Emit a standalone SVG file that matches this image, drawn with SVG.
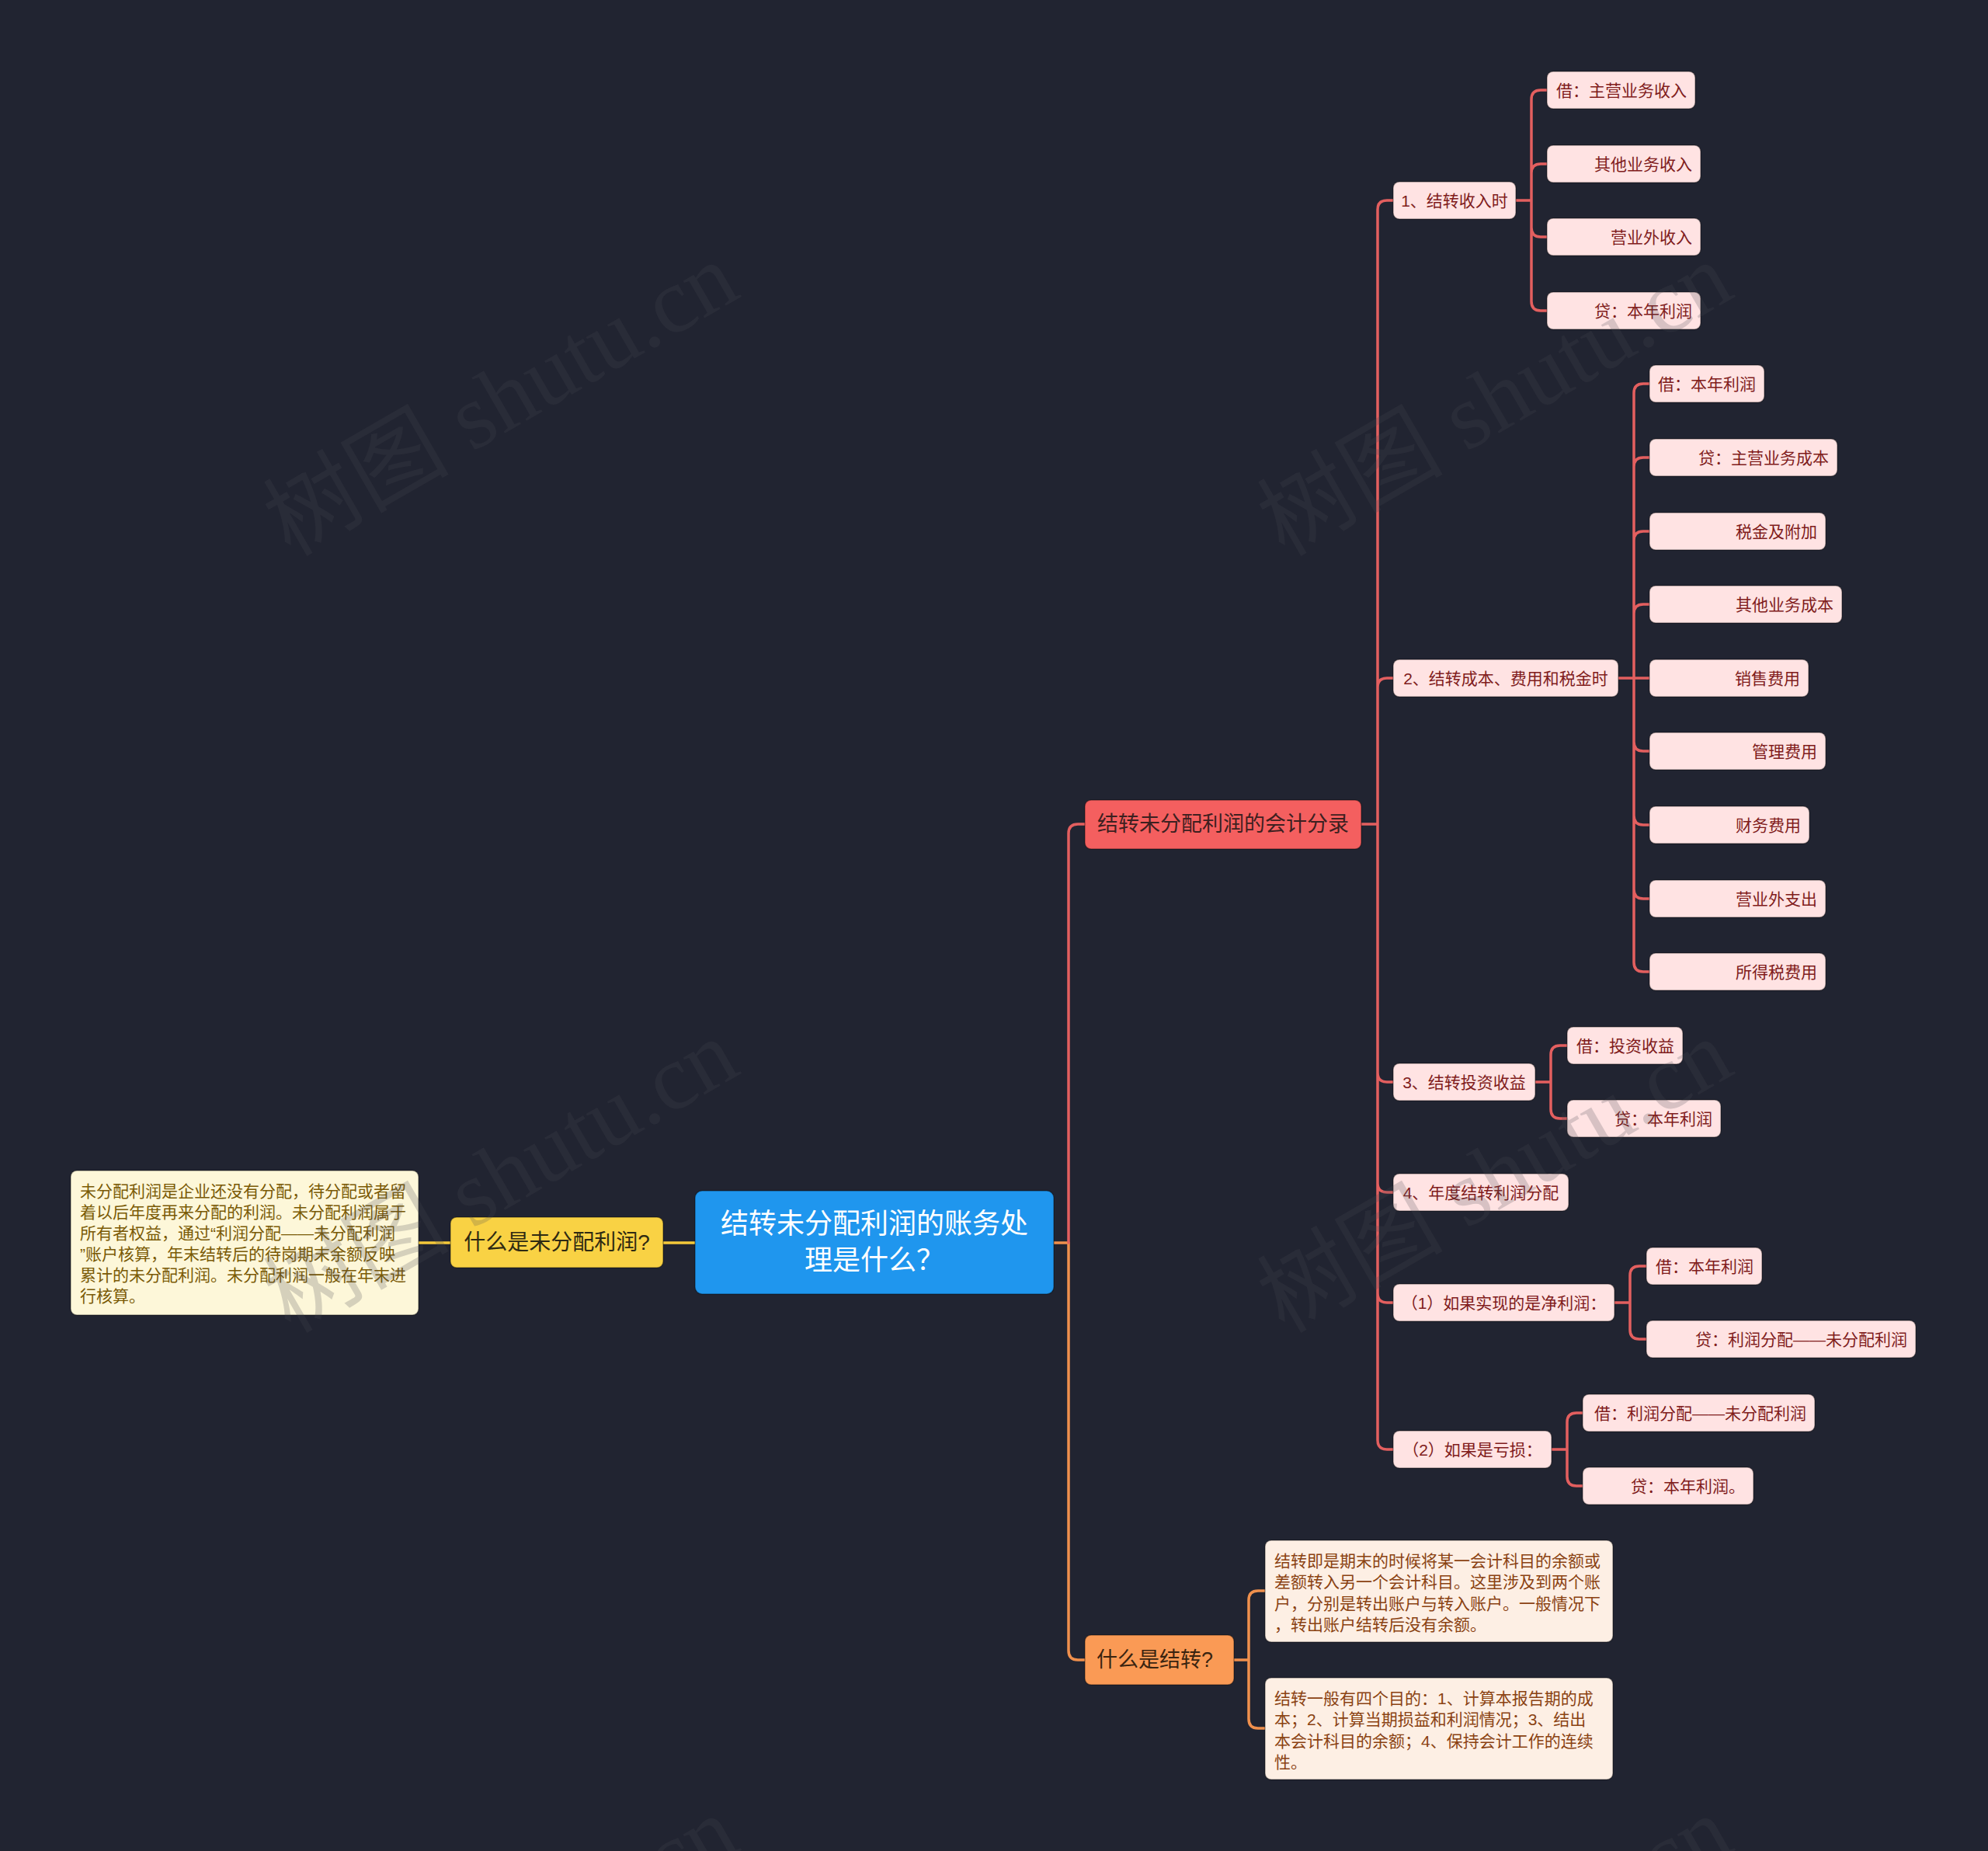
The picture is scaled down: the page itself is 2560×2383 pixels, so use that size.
<svg xmlns="http://www.w3.org/2000/svg" width="2560" height="2383" viewBox="0 0 2560 2383">
<style>
text{font-family:"Liberation Sans","Noto Sans CJK SC",sans-serif;dominant-baseline:central}
.c{fill:none;stroke-width:3.5;stroke-linecap:round;stroke-linejoin:round}
.cr{stroke:#e35f5f}
.co{stroke:#f0904d}
.cy{stroke:#f5c93a}
.bx{stroke:#000;stroke-opacity:.35;stroke-width:1.5}
.leaf rect{fill:#ffe3e3}
.leaf text{fill:#801c1c;font-size:21px;text-anchor:end}
.l2 rect{fill:#ffe3e3}
.l2 text{fill:#801c1c;font-size:21px;text-anchor:middle}
.wm{font-family:"Liberation Serif","Noto Sans CJK SC",serif;font-size:120px;fill:#484a52;fill-opacity:.22;text-anchor:middle}
</style>
<rect width="2560" height="2383" fill="#212431"/>

<g id="connectors">
<path class="c cy" d="M895 1600H854M580 1600H539"/>
<path class="c co" d="M1357 1600H1376V2125Q1376 2137 1388 2137H1397"/>
<path class="c cr" d="M1376 1600V1073Q1376 1061 1388 1061H1397"/>
<path class="c co" d="M1589 2137H1608V2060Q1608 2048 1620 2048H1629M1608 2137V2213Q1608 2225 1620 2225H1629"/>
<path class="c cr" d="M1753 1061H1774V270Q1774 258 1786 258H1794M1774 1061V885Q1774 873 1786 873H1794M1774 1061V1381Q1774 1393 1786 1393H1794M1774 1381V1523Q1774 1535 1786 1535H1794M1774 1523V1665Q1774 1677 1786 1677H1794M1774 1665V1854Q1774 1866 1786 1866H1794"/>
<path class="c cr" d="M1952 258H1972V128Q1972 116 1984 116H1992M1972 258V223Q1972 211 1984 211H1992M1972 258V293Q1972 305 1984 305H1992M1972 293V388Q1972 400 1984 400H1992"/>
<path class="c cr" d="M2084 873H2124M2104 873V506Q2104 494 2116 494H2124M2104 601Q2104 589 2116 589H2124M2104 696Q2104 684 2116 684H2124M2104 790Q2104 778 2116 778H2124M2104 873V1239Q2104 1251 2116 1251H2124M2104 955Q2104 967 2116 967H2124M2104 1050Q2104 1062 2116 1062H2124M2104 1145Q2104 1157 2116 1157H2124"/>
<path class="c cr" d="M1977 1393H1997V1358Q1997 1346 2009 1346H2018M1997 1393V1428Q1997 1440 2009 1440H2018"/>
<path class="c cr" d="M2079 1677H2099V1642Q2099 1630 2111 1630H2120M2099 1677V1712Q2099 1724 2111 1724H2120"/>
<path class="c cr" d="M1998 1866H2018V1831Q2018 1819 2030 1819H2038M2018 1866V1901Q2018 1913 2030 1913H2038"/>
</g>

<g id="root">
<rect class="bx" x="895" y="1533" width="462" height="133" rx="9" fill="#1f96ee"/>
<text x="1126" y="1575" font-size="36" fill="#fff" text-anchor="middle">结转未分配利润的账务处</text>
<text x="1126" y="1622" font-size="36" fill="#fff" text-anchor="middle">理是什么？</text>
</g>

<g id="n-what-undistributed">
<rect class="bx" x="580" y="1567" width="274" height="65" rx="8" fill="#f9d244"/>
<text x="717" y="1599" font-size="28" fill="#2f2a12" text-anchor="middle">什么是未分配利润?</text>
</g>
<g id="n-note-undistributed">
<rect class="bx" x="91" y="1507" width="448" height="186" rx="8" fill="#fdf7d9"/>
<g font-size="21" fill="#7a5a06">
<text x="103" y="1533">未分配利润是企业还没有分配，待分配或者留</text>
<text x="103" y="1560">着以后年度再来分配的利润。未分配利润属于</text>
<text x="103" y="1587">所有者权益，通过“利润分配——未分配利润</text>
<text x="103" y="1614">”账户核算，年末结转后的待岗期末余额反映</text>
<text x="103" y="1641">累计的未分配利润。未分配利润一般在年末进</text>
<text x="103" y="1668">行核算。</text>
</g>
</g>

<g id="n-entries">
<rect class="bx" x="1397" y="1030" width="356" height="63" rx="8" fill="#f45f5f"/>
<text x="1575" y="1061" font-size="27" fill="#3d2020" text-anchor="middle">结转未分配利润的会计分录</text>
</g>

<g id="n-what-transfer">
<rect class="bx" x="1397" y="2105" width="192" height="64" rx="8" fill="#fa9a55"/>
<text x="1412" y="2137" font-size="27" fill="#3a2410">什么是结转?</text>
</g>
<g id="n-transfer-note1">
<rect class="bx" x="1629" y="1983" width="448" height="131" rx="8" fill="#fdefe4"/>
<g font-size="21" fill="#8a4212">
<text x="1641" y="2009">结转即是期末的时候将某一会计科目的余额或</text>
<text x="1641" y="2036.5">差额转入另一个会计科目。这里涉及到两个账</text>
<text x="1641" y="2064">户，分别是转出账户与转入账户。一般情况下</text>
<text x="1641" y="2091.5">，转出账户结转后没有余额。</text>
</g>
</g>
<g id="n-transfer-note2">
<rect class="bx" x="1629" y="2160" width="448" height="131" rx="8" fill="#fdefe4"/>
<g font-size="21" fill="#8a4212">
<text x="1641" y="2186">结转一般有四个目的：1、计算本报告期的成</text>
<text x="1641" y="2213.5">本；2、计算当期损益和利润情况；3、结出</text>
<text x="1641" y="2241">本会计科目的余额；4、保持会计工作的连续</text>
<text x="1641" y="2268.5">性。</text>
</g>
</g>

<g id="l2-1" class="l2"><rect class="bx" x="1794" y="234" width="158" height="48" rx="8"/><text x="1873" y="258">1、结转收入时</text></g>
<g id="l2-2" class="l2"><rect class="bx" x="1794" y="849" width="290" height="48" rx="8"/><text x="1939" y="873">2、结转成本、费用和税金时</text></g>
<g id="l2-3" class="l2"><rect class="bx" x="1794" y="1369" width="183" height="48" rx="8"/><text x="1885.5" y="1393">3、结转投资收益</text></g>
<g id="l2-4" class="l2"><rect class="bx" x="1794" y="1511" width="226" height="48" rx="8"/><text x="1907" y="1535">4、年度结转利润分配</text></g>
<g id="l2-5" class="l2"><rect class="bx" x="1794" y="1653" width="285" height="48" rx="8"/><text x="1936.5" y="1677">（1）如果实现的是净利润：</text></g>
<g id="l2-6" class="l2"><rect class="bx" x="1794" y="1842" width="204" height="48" rx="8"/><text x="1896" y="1866">（2）如果是亏损：</text></g>

<g id="g1-1" class="leaf"><rect class="bx" x="1992" y="92" width="191" height="48" rx="8"/><text x="2172" y="116">借：主营业务收入</text></g>
<g id="g1-2" class="leaf"><rect class="bx" x="1992" y="187" width="198" height="48" rx="8"/><text x="2179" y="211">其他业务收入</text></g>
<g id="g1-3" class="leaf"><rect class="bx" x="1992" y="281" width="198" height="48" rx="8"/><text x="2179" y="305">营业外收入</text></g>
<g id="g1-4" class="leaf"><rect class="bx" x="1992" y="376" width="198" height="48" rx="8"/><text x="2179" y="400">贷：本年利润</text></g>

<g id="g2-1" class="leaf"><rect class="bx" x="2124" y="470" width="148" height="48" rx="8"/><text x="2261" y="494">借：本年利润</text></g>
<g id="g2-2" class="leaf"><rect class="bx" x="2124" y="565" width="242" height="48" rx="8"/><text x="2355" y="589">贷：主营业务成本</text></g>
<g id="g2-3" class="leaf"><rect class="bx" x="2124" y="660" width="227" height="48" rx="8"/><text x="2340" y="684">税金及附加</text></g>
<g id="g2-4" class="leaf"><rect class="bx" x="2124" y="754" width="248" height="48" rx="8"/><text x="2361" y="778">其他业务成本</text></g>
<g id="g2-5" class="leaf"><rect class="bx" x="2124" y="849" width="205" height="48" rx="8"/><text x="2318" y="873">销售费用</text></g>
<g id="g2-6" class="leaf"><rect class="bx" x="2124" y="943" width="227" height="48" rx="8"/><text x="2340" y="967">管理费用</text></g>
<g id="g2-7" class="leaf"><rect class="bx" x="2124" y="1038" width="206" height="48" rx="8"/><text x="2319" y="1062">财务费用</text></g>
<g id="g2-8" class="leaf"><rect class="bx" x="2124" y="1133" width="227" height="48" rx="8"/><text x="2340" y="1157">营业外支出</text></g>
<g id="g2-9" class="leaf"><rect class="bx" x="2124" y="1227" width="227" height="48" rx="8"/><text x="2340" y="1251">所得税费用</text></g>

<g id="g3-1" class="leaf"><rect class="bx" x="2018" y="1322" width="149" height="48" rx="8"/><text x="2156" y="1346">借：投资收益</text></g>
<g id="g3-2" class="leaf"><rect class="bx" x="2018" y="1416" width="198" height="48" rx="8"/><text x="2205" y="1440">贷：本年利润</text></g>

<g id="g5-1" class="leaf"><rect class="bx" x="2120" y="1606" width="149" height="48" rx="8"/><text x="2258" y="1630">借：本年利润</text></g>
<g id="g5-2" class="leaf"><rect class="bx" x="2120" y="1700" width="347" height="48" rx="8"/><text x="2456" y="1724">贷：利润分配——未分配利润</text></g>

<g id="g6-1" class="leaf"><rect class="bx" x="2038" y="1795" width="299" height="48" rx="8"/><text x="2326" y="1819">借：利润分配——未分配利润</text></g>
<g id="g6-2" class="leaf"><rect class="bx" x="2038" y="1889" width="220" height="48" rx="8"/><text x="2247" y="1913">贷：本年利润。</text></g>

<g id="watermark">
<text class="wm" transform="translate(645 514) rotate(-30)">树图 shutu.cn</text>
<text class="wm" transform="translate(1925 514) rotate(-30)">树图 shutu.cn</text>
<text class="wm" transform="translate(645 1514) rotate(-30)">树图 shutu.cn</text>
<text class="wm" transform="translate(1925 1514) rotate(-30)">树图 shutu.cn</text>
<text class="wm" transform="translate(645 2514) rotate(-30)">树图 shutu.cn</text>
<text class="wm" transform="translate(1925 2514) rotate(-30)">树图 shutu.cn</text>
</g>
</svg>
